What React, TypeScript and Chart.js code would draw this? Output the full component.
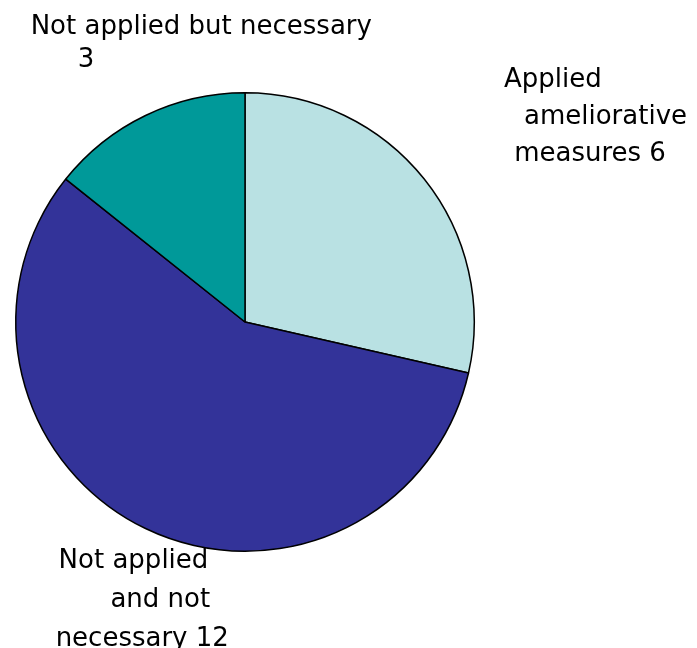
import React, { useEffect, useRef } from "react";
import { Chart, registerables } from "chart.js";

Chart.register(...registerables);

const categories = ["Applied ameliorative measures", "Not applied and not necessary", "Not applied but necessary"];
const values = [6, 12, 3];
const colors = ["#B9E1E3", "#333399", "#009999"];
// label lines per slice (text only)
const labelLines = [
  ["Applied", "ameliorative", "measures 6"],
  ["Not applied", "and not", "necessary 12"],
  ["Not applied but necessary", "3"],
];
// placement of each label line in units of the pie radius relative to its centre (style)
const labelOffsets = [
  [[1.13, -1.026], [1.217, -0.865], [1.174, -0.704]],
  [[-0.813, 1.074], [-0.587, 1.243], [-0.826, 1.413]],
  [[-0.935, -1.257], [-0.73, -1.113]],
];

const labelPlugin = {
  id: "sliceLabels",
  afterDraw(chart: any) {
    const meta = chart.getDatasetMeta(0);
    const ctx = chart.ctx;
    ctx.save();
    ctx.font = "26px 'DejaVu Sans'";
    ctx.fillStyle = "#000";
    ctx.textAlign = "left";
    ctx.textBaseline = "alphabetic";
    meta.data.forEach((arc: any, i: number) => {
      const { x, y, outerRadius } = arc.getProps(["x", "y", "outerRadius"], true);
      labelLines[i].forEach((line, j) => {
        const [ox, oy] = labelOffsets[i][j];
        ctx.fillText(line, x + ox * outerRadius, y + oy * outerRadius);
      });
    });
    ctx.restore();
  },
};

export default function App() {
  const ref = useRef<HTMLCanvasElement>(null);
  useEffect(() => {
    if (!ref.current) return;
    const chart = new Chart(ref.current, {
      type: "pie",
      data: {
        labels: categories,
        datasets: [
          {
            data: values,
            backgroundColor: colors,
            borderColor: "#000",
            borderWidth: 1.5,
          },
        ],
      },
      options: {
        responsive: false,
        animation: false,
        layout: { padding: { left: 15, right: 222, top: 92, bottom: 96 } },
        plugins: { legend: { display: false }, tooltip: { enabled: false } },
      },
      plugins: [labelPlugin],
    });
    return () => chart.destroy();
  }, []);
  return (
    <div style={{ position: "fixed", left: 0, top: 0, width: 697, height: 648, background: "#fff" }}>
      <canvas ref={ref} width={697} height={648} style={{ width: 697, height: 648 }} />
    </div>
  );
}
